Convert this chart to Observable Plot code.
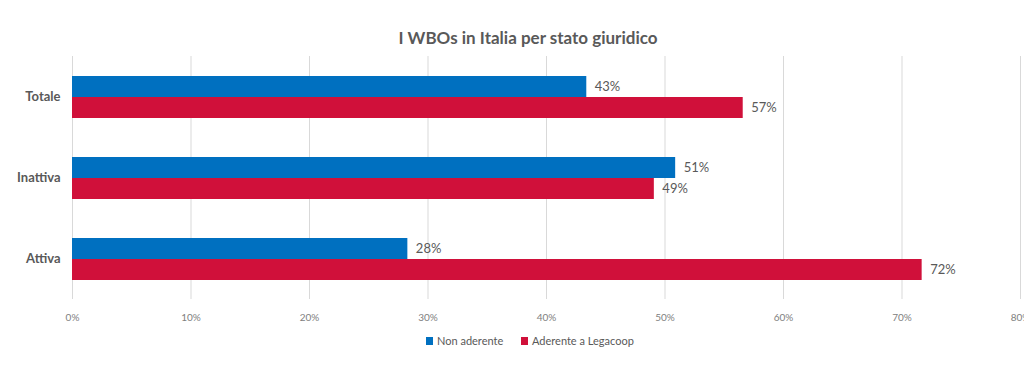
<!DOCTYPE html>
<html>
<head>
<meta charset="utf-8">
<script src="https://cdn.jsdelivr.net/npm/d3@7"></script>
<script src="https://cdn.jsdelivr.net/npm/@observablehq/plot@0.6"></script>
<style>
  html, body { margin: 0; padding: 0; background: #fff; width: 1024px; height: 373px; overflow: hidden; font-family: Lato, "Open Sans", sans-serif; }
  #title { height: 28px; padding-top: 24px; text-align: center; font-size: 17px; font-weight: bold; color: #595959; line-height: 28px; padding-left: 32px; }
  #chart svg { display: block; overflow: visible; }
  #legend { position: relative; height: 30px; font-size: 11px; color: #595959; }
  #legend .item { position: absolute; top: 4px; display: flex; align-items: center; white-space: nowrap; }
  #legend .sw { width: 7px; height: 8px; margin-right: 4px; display: inline-block; }
</style>
</head>
<body>
<div id="title">I WBOs in Italia per stato giuridico</div>
<div id="chart"></div>
<div id="legend"></div>
<script>
const categories = ["Totale", "Inattiva", "Attiva"];
const series = ["Non aderente", "Aderente a Legacoop"];
const nonAderente = [43.4, 50.9, 28.3];
const aderente = [56.6, 49.1, 71.7];
const xTicks = [0, 10, 20, 30, 40, 50, 60, 70, 80];
const colors = ["#0070C0", "#D0103A"];

const data = categories.flatMap((c, i) => [
  {cat: c, series: series[0], value: nonAderente[i]},
  {cat: c, series: series[1], value: aderente[i]}
]);

const chart = Plot.plot({
  width: 1024,
  height: 278,
  marginLeft: 72,
  marginRight: 4,
  marginTop: 3,
  marginBottom: 30,
  style: {fontFamily: "Lato, 'Open Sans', sans-serif", background: "transparent"},
  x: {domain: [0, 80]},
  fy: {domain: categories, padding: 0},
  y: {domain: series, paddingInner: 0, paddingOuter: 0.89},
  color: {domain: series, range: colors},
  marks: [
    Plot.gridX(xTicks, {stroke: "#d9d9d9", strokeOpacity: 1, strokeWidth: 1}),
    Plot.barX(data, {fy: "cat", y: "series", x: "value", fill: "series"}),
    Plot.text(data, {fy: "cat", y: "series", x: "value", text: d => Math.round(d.value) + "%", dx: 8, textAnchor: "start", fontSize: 13, fill: "#595959"}),
    Plot.axisFy({anchor: "left", tickSize: 0, tickPadding: 12, fontSize: 13, fontWeight: "bold", color: "#595959", label: null}),
    Plot.axisY({ticks: [], label: null}),
    Plot.axisX(xTicks, {anchor: "bottom", tickSize: 0, tickPadding: 14, tickFormat: d => d + "%", fontSize: 10, color: "#808080", label: null})
  ]
});
document.getElementById("chart").appendChild(chart);

const legend = document.getElementById("legend");
const lefts = [426, 521];
series.forEach((s, i) => {
  const item = document.createElement("div");
  item.className = "item";
  item.style.left = lefts[i] + "px";
  const sw = document.createElement("span");
  sw.className = "sw";
  sw.style.background = colors[i];
  item.appendChild(sw);
  item.appendChild(document.createTextNode(s));
  legend.appendChild(item);
});
</script>
</body>
</html>
